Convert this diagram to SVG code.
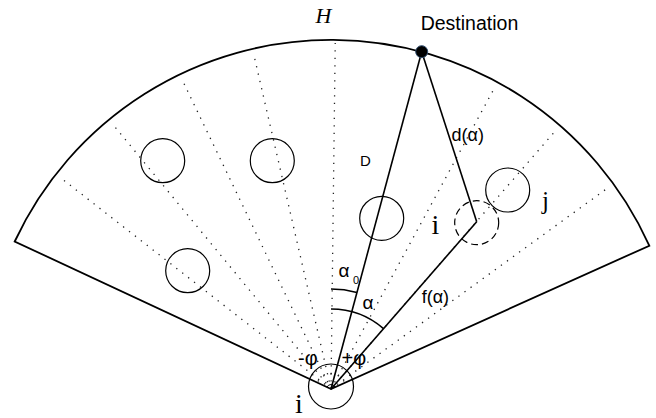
<svg xmlns="http://www.w3.org/2000/svg" width="656" height="418" viewBox="0 0 656 418">
<style>
.edge{fill:none;stroke:#000;stroke-width:1.8}
.ln{fill:none;stroke:#000;stroke-width:1.6}
.dot{fill:none;stroke:#222;stroke-width:1.3;stroke-dasharray:1.3 6.2}
.obs{fill:none;stroke:#000;stroke-width:1.2}
.dash{fill:none;stroke:#000;stroke-width:1.2;stroke-dasharray:7 4}
.sans{font-family:"Liberation Sans",Arial,sans-serif;fill:#000}
.serif{font-family:"Liberation Serif","Times New Roman",serif;fill:#000}
</style>
<rect width="656" height="418" fill="#fff"/>
<g id="sector">
<path class="edge" d="M331,389 L14.7,241.5 A349,349 0 0 1 649.3,245.7 Z"/>
</g>
<g id="rays">
<g transform="translate(331,389)">
<line class="dot" x1="0" y1="0" x2="0" y2="-344" transform="rotate(-52)"/>
<line class="dot" x1="0" y1="0" x2="0" y2="-344" transform="rotate(-39.5)"/>
<line class="dot" x1="0" y1="0" x2="0" y2="-344" transform="rotate(-25.7)"/>
<line class="dot" x1="0" y1="0" x2="0" y2="-344" transform="rotate(-13)"/>
<line class="dot" x1="0" y1="0" x2="0" y2="-346" transform="rotate(0.7)"/>
<line class="dot" x1="0" y1="0" x2="0" y2="-343" transform="rotate(28.5)"/>
<line class="dot" x1="0" y1="0" x2="0" y2="-343" transform="rotate(41)"/>
<line class="dot" x1="0" y1="0" x2="0" y2="-343" transform="rotate(54)"/>
<path class="dot" d="M-13,-7.5 A15,15 0 0 1 13,-7.5"/>
<path class="ln" style="stroke-width:1" d="M-4,-2 A4.5,4.5 0 0 1 4,-2"/>
</g>
</g>
<g id="obstacles">
<circle id="obs1" class="obs" cx="162.7" cy="160.7" r="22"/>
<circle id="obs2" class="obs" cx="272.3" cy="160.7" r="22"/>
<circle id="obs3" class="obs" cx="187.7" cy="270.7" r="22"/>
<circle id="obs4" class="obs" cx="381.7" cy="218.3" r="22"/>
<circle id="obs-j" class="obs" cx="507.7" cy="190" r="22"/>
</g>
<g id="node-i-future">
<circle class="dash" cx="476.7" cy="222.7" r="22"/>
</g>
<g id="node-i">
<circle class="obs" cx="331" cy="386.5" r="22.5"/>
</g>
<g id="connectors">
<line class="ln" x1="331" y1="389" x2="421.7" y2="51.7"/>
<line class="ln" x1="421.7" y1="51.7" x2="476.7" y2="221.7"/>
<line class="ln" x1="331" y1="389" x2="476.7" y2="221.7"/>
<path class="ln" d="M331,289 A100,100 0 0 1 356.9,292.4"/>
<path class="ln" d="M331,309 A80,80 0 0 1 383.5,328.6"/>
</g>
<g id="destination">
<circle cx="421.7" cy="51.7" r="6" fill="#000" stroke="#2d4a6b" stroke-width="1"/>
</g>
<g id="labels">
<text class="serif" x="315.5" y="23.3" font-size="22" font-style="italic">H</text>
<text class="sans" x="420.7" y="30" font-size="19.5">Destination</text>
<text class="sans" x="360" y="166" font-size="15">D</text>
<text class="sans" x="451.5" y="141" font-size="18">d(α)</text>
<text class="sans" x="421.7" y="303" font-size="18">f(α)</text>
<text class="sans" x="362.5" y="308.5" font-size="19">α</text>
<text class="sans" x="338.5" y="277" font-size="19">α</text>
<text class="sans" x="353" y="283.5" font-size="11">0</text>
<text class="sans" x="298" y="365" font-size="20">-φ</text>
<text class="sans" x="341.5" y="365" font-size="20">+φ</text>
<text class="serif" x="431.5" y="234" font-size="28">i</text>
<text class="serif" x="295" y="413" font-size="28">i</text>
<text class="serif" x="542" y="209" font-size="25">j</text>
</g>
</svg>
